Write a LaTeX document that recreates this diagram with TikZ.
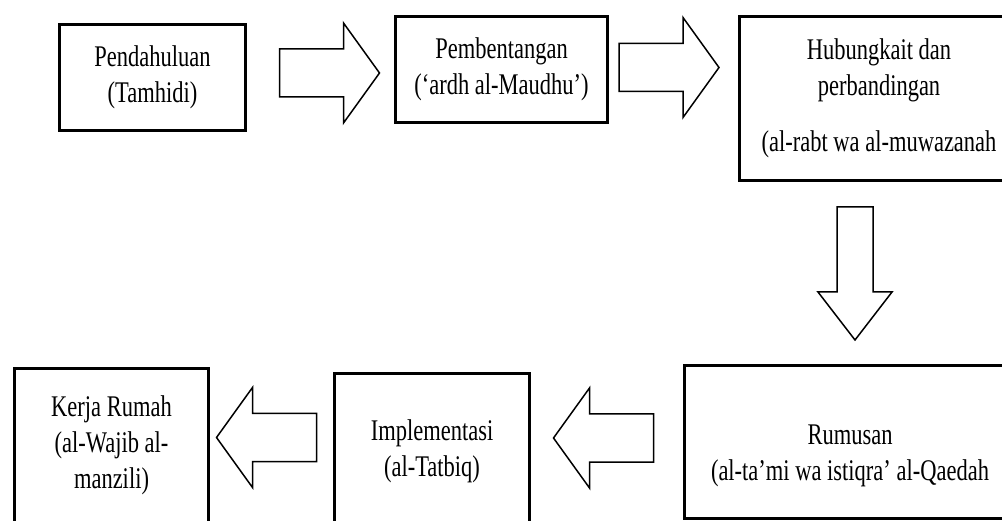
\documentclass[tikz,border=0pt]{standalone}
\usepackage{fontspec}
\setmainfont{Liberation Serif}[FakeStretch=0.75]
\tikzset{
	box/.style={draw,line width=3pt,align=center,inner sep=0pt,font=\fontsize{30}{36}\selectfont},
	blockarr/.style={draw,line width=1.5pt,line join=miter}
}
\begin{document}
\begin{tikzpicture}[x=1pt,y=-1pt]
	\useasboundingbox (0,0) rectangle (1002,521);
	% top row
	\node[box,minimum width=186,minimum height=106] (pend) at (152.5,77.5) {Pendahuluan\\(Tamhidi)};
	\node[box,minimum width=212,minimum height=106] (bentang) at (501.5,69.5) {Pembentangan\\(‘ardh al-Maudhu’)};
	\node[box,minimum width=279,minimum height=164] (hubung) at (879,98.5)
		{Hubungkait dan\\perbandingan\\[20pt](al-rabt wa al-muwazanah};
	% bottom row
	\node[box,minimum width=331,minimum height=153] (rumus) at (850,442)
		{\rule{0pt}{48pt}Rumusan\\(al-ta’mi wa istiqra’ al-Qaedah};
	\node[box,minimum width=195,minimum height=155] (tatbiq) at (432,451) {Implementasi\\(al-Tatbiq)};
	\node[box,minimum width=194,minimum height=154] (kerja) at (111.5,445.5) {Kerja Rumah\\(al-Wajib al-\\manzili)};
	% block arrows
	\foreach \p/\r in {{329.5,73}/0, {669,67.5}/0, {603.5,438}/180, {266.5,437.5}/180}{
		\draw[blockarr,shift={(\p)},rotate=\r] (-50,-24)--(14,-24)--(14,-50)--(50,0)--(14,50)--(14,24)--(-50,24)--cycle;
	}
	\draw[blockarr,shift={(855,0)}] (-18,207)--(18,207)--(18,292)--(37,292)--(0,340)--(-37,292)--(-18,292)--cycle;
\end{tikzpicture}
\end{document}
